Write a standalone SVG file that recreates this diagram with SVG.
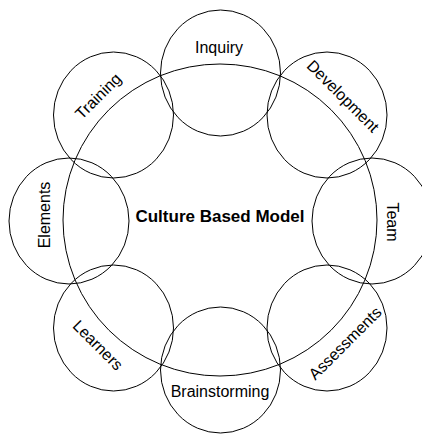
<svg xmlns="http://www.w3.org/2000/svg" width="422" height="434" viewBox="0 0 422 434">
<style>
.c{fill:none;stroke:#000;stroke-width:1}
.t{font-family:"Liberation Sans",Arial,sans-serif;font-size:16px;fill:#000;text-anchor:middle}
.b{font-family:"Liberation Sans",Arial,sans-serif;font-size:17px;font-weight:bold;fill:#000;text-anchor:middle}
</style>
<rect width="422" height="434" fill="#fff"/>
<g id="center">
<ellipse class="c" cx="220" cy="220" rx="157" ry="156"/>
<text class="b" x="220" y="222">Culture Based Model</text>
</g>
<g id="inquiry">
<ellipse class="c" cx="220.5" cy="73" rx="60" ry="63"/>
<text class="t" x="219" y="53">Inquiry</text>
</g>
<g id="development">
<ellipse class="c" cx="327" cy="115" rx="60" ry="63"/>
<text class="t" transform="translate(339,100) rotate(45)">Development</text>
</g>
<g id="team">
<ellipse class="c" cx="372" cy="221" rx="60" ry="63"/>
<text class="t" transform="translate(387,222) rotate(90)">Team</text>
</g>
<g id="assessments">
<ellipse class="c" cx="327" cy="328" rx="60" ry="63"/>
<text class="t" transform="translate(349,347) rotate(-45)">Assessments</text>
</g>
<g id="brainstorming">
<ellipse class="c" cx="220.5" cy="370" rx="60" ry="63"/>
<text class="t" x="220" y="397">Brainstorming</text>
</g>
<g id="learners">
<ellipse class="c" cx="113.5" cy="328" rx="60" ry="63"/>
<text class="t" transform="translate(94,349) rotate(45)">Learners</text>
</g>
<g id="elements">
<ellipse class="c" cx="69" cy="221" rx="60" ry="63"/>
<text class="t" transform="translate(50,215) rotate(-90)">Elements</text>
</g>
<g id="training">
<ellipse class="c" cx="113.5" cy="115" rx="60" ry="63"/>
<text class="t" transform="translate(102,100) rotate(-45)">Training</text>
</g>
<g id="connectors"></g>
</svg>
